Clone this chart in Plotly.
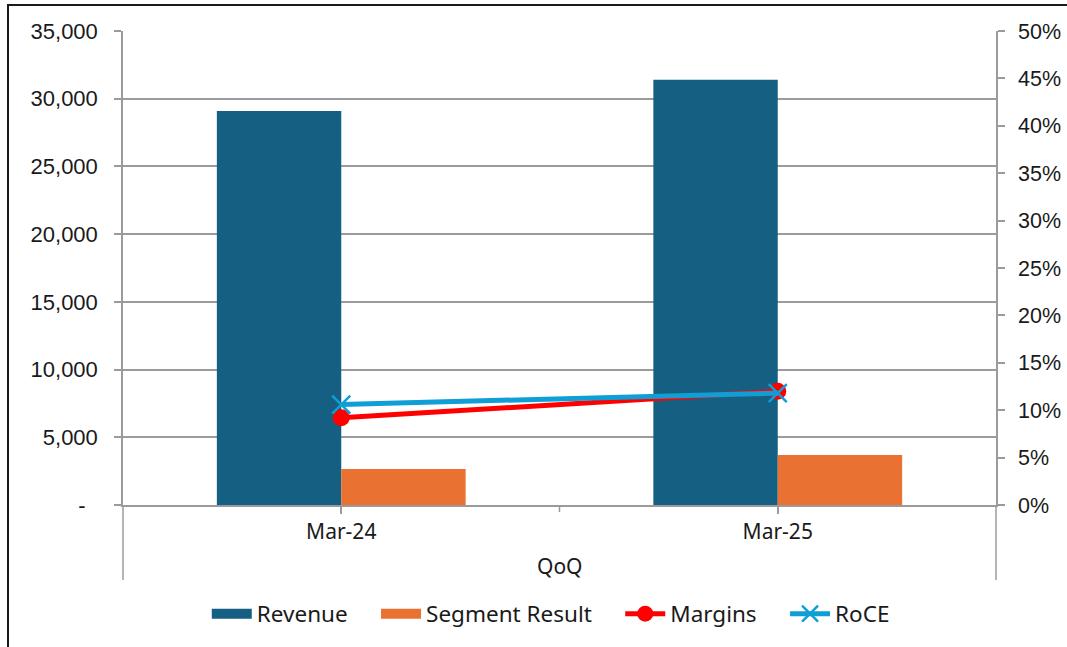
import plotly.graph_objects as go

# data
periods = ["Mar-24", "Mar-25"]
revenue = [29100, 31400]
segment_result = [2650, 3700]
margins = [0.092, 0.12]
roce = [0.106, 0.118]

left_ticks = [0, 5000, 10000, 15000, 20000, 25000, 30000, 35000]
left_labels = ["-\u00a0\u00a0"] + [f"{v:,}" for v in left_ticks[1:]]

REVENUE_BLUE = "#156082"
SEGMENT_ORANGE = "#E97132"
AXIS_GREY = "#9b9b9b"
NUM_FONT = "Liberation Sans, Arial, sans-serif"
TXT_FONT = "Noto Sans, Open Sans, sans-serif"
PAD = "\u00a0" * 4  # extra room between legend entries

fig = go.Figure()

# legend proxies so the bar keys show as wide blocks like Excel's
for name, colour in [("Revenue", REVENUE_BLUE), ("Segment Result", SEGMENT_ORANGE)]:
    fig.add_trace(go.Scatter(
        x=[periods[0]], y=[None], name=name + PAD, mode="lines",
        line=dict(color=colour, width=15), hoverinfo="skip"
    ))

fig.add_trace(go.Bar(
    x=periods, y=revenue, name="Revenue", showlegend=False,
    marker=dict(color=REVENUE_BLUE, line=dict(width=0)),
    yaxis="y"
))
fig.add_trace(go.Bar(
    x=periods, y=segment_result, name="Segment Result", showlegend=False,
    marker=dict(color=SEGMENT_ORANGE, line=dict(width=0)),
    yaxis="y"
))
fig.add_trace(go.Scatter(
    x=periods, y=margins, name="Margins" + PAD, mode="lines+markers",
    line=dict(color="#FF0000", width=5),
    marker=dict(symbol="circle", size=17, color="#FF0000"),
    yaxis="y2"
))
fig.add_trace(go.Scatter(
    x=periods, y=roce, name="RoCE", mode="lines+markers",
    line=dict(color="#0F9ED5", width=5),
    marker=dict(symbol="x-thin", size=18, line=dict(color="#0F9ED5", width=2.5)),
    yaxis="y2"
))

# plot area pixel box: x 123..996, y 31..505
frac = 1 / 474.0

shapes = [
    # outer chart frame (right and bottom edges fall outside the picture)
    dict(type="rect", xref="paper", yref="paper",
         x0=(8 - 123) / 873.0, x1=1.2, y0=-0.4, y1=(505 - 5) * frac,
         line=dict(color="#1a1a1a", width=2)),
    # value axes run down past the category labels
    dict(type="line", xref="paper", yref="paper", x0=0, x1=0, y0=0, y1=-75 * frac,
         line=dict(color=AXIS_GREY, width=1.5)),
    dict(type="line", xref="paper", yref="paper", x0=1, x1=1, y0=0, y1=-75 * frac,
         line=dict(color=AXIS_GREY, width=1.5)),
    # tick on the boundary between the two periods
    dict(type="line", xref="x", yref="paper", x0=0.5, x1=0.5, y0=0, y1=-7 * frac,
         line=dict(color=AXIS_GREY, width=1.5)),
]

fig.update_layout(
    width=1067, height=647, autosize=False,
    margin=dict(l=123, r=71, t=31, b=142, autoexpand=False),
    paper_bgcolor="white", plot_bgcolor="white",
    barmode="group", bargap=0.43, bargroupgap=0,
    showlegend=True,
    legend=dict(
        orientation="h", x=0.49, xanchor="center", y=(505 - 614) * frac, yanchor="middle",
        font=dict(family=TXT_FONT, size=22.5, color="#1a1a1a"),
        itemwidth=40, traceorder="normal",
    ),
    xaxis=dict(
        type="category", categoryorder="array", categoryarray=periods,
        showline=True, linecolor=AXIS_GREY, linewidth=1.5,
        ticks="outside", ticklen=7, tickcolor=AXIS_GREY, tickwidth=1.5,
        showgrid=False, zeroline=False, automargin=False,
        tickfont=dict(family=TXT_FONT, size=21, color="#1a1a1a"),
        fixedrange=True,
    ),
    yaxis=dict(
        range=[0, 35000], tickvals=left_ticks, ticktext=left_labels,
        showline=True, linecolor=AXIS_GREY, linewidth=1.5,
        ticks="outside", ticklen=7, tickcolor=AXIS_GREY, tickwidth=1.5,
        showgrid=True, gridcolor=AXIS_GREY, gridwidth=1.5, zeroline=False,
        automargin=False,
        tickfont=dict(family=NUM_FONT, size=22, color="#1a1a1a"),
        ticklabelstandoff=12,
    ),
    yaxis2=dict(
        range=[0, 0.5], dtick=0.05, tickformat=".0%",
        overlaying="y", side="right",
        showline=True, linecolor=AXIS_GREY, linewidth=1.5,
        ticks="outside", ticklen=7, tickcolor=AXIS_GREY, tickwidth=1.5,
        showgrid=False, zeroline=False, automargin=False,
        tickfont=dict(family=NUM_FONT, size=21.5, color="#1a1a1a"),
        ticklabelstandoff=9,
    ),
    shapes=shapes,
    annotations=[dict(
        text="QoQ", xref="paper", yref="paper", x=0.5, y=(505 - 566) * frac,
        xanchor="center", yanchor="middle", showarrow=False,
        font=dict(family=TXT_FONT, size=21, color="#1a1a1a"),
    )],
)

# the default page has an 8px body margin; drop it so the chart sits at 0,0
fig.write_html(
    "out.html",
    config={"displayModeBar": False, "responsive": False},
    post_script="document.body.style.margin='0';document.body.style.overflow='hidden';",
)
